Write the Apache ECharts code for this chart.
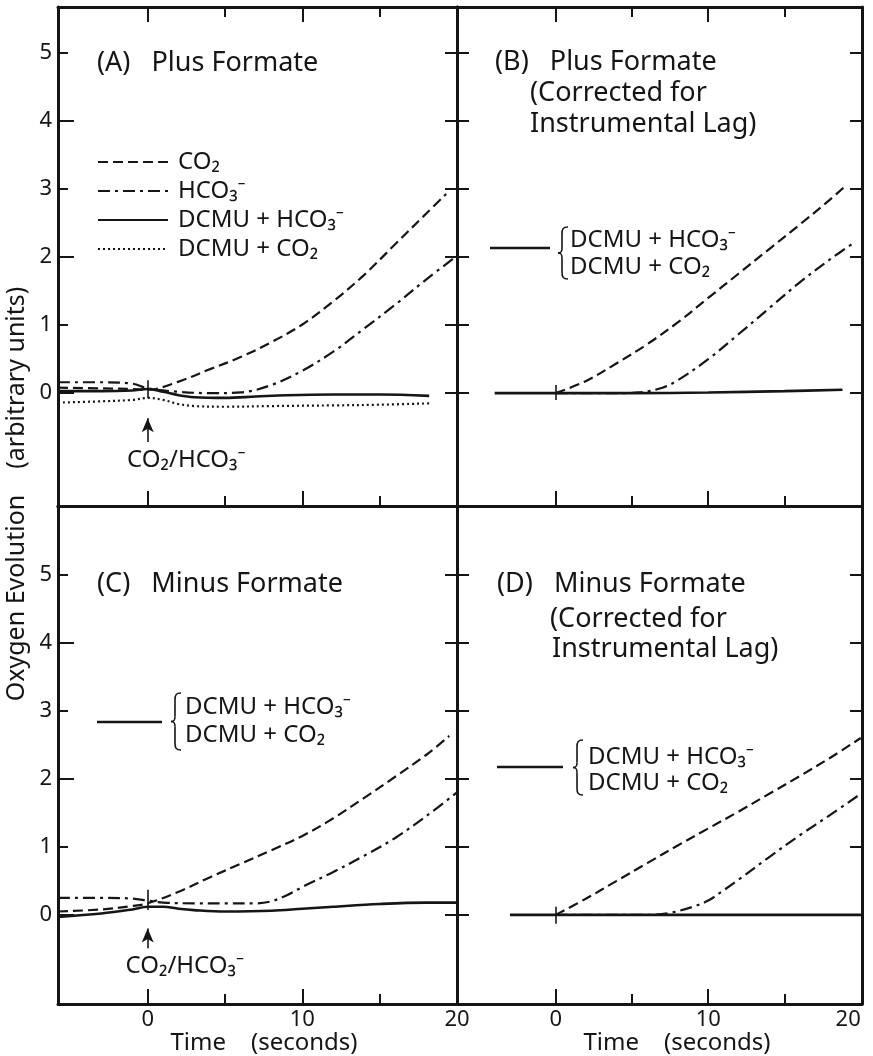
<!DOCTYPE html>
<html>
<head>
<meta charset="utf-8">
<title>Oxygen evolution</title>
<script src="https://cdn.jsdelivr.net/npm/echarts@6/dist/echarts.min.js"></script>
<style>
html, body { margin: 0; padding: 0; background: #fff; }
#chart { width: 873px; height: 1056px; }
</style>
</head>
<body>
<div id="chart"></div>
<script>
// [time (s), oxygen evolution]
const aCO2 = [[-5.8,0.08],[-3,0.07],[-1,0.06],[0,0.05],[2,0.17],[4,0.35],[6,0.53],[8,0.75],[10,1.01],[12,1.35],[14,1.74],[16,2.19],[18,2.64],[19.3,2.93]];
const aHCO3 = [[-5.8,0.16],[-3,0.16],[-1,0.14],[0,0.07],[2,0.02],[4,0.0],[6,0.01],[8,0.12],[10,0.33],[12,0.61],[14,0.95],[16,1.3],[18,1.67],[20,2.02]];
const aDcmuHCO3 = [[-5.8,0.03],[-3,0.03],[-1,0.04],[0,0.06],[1,0.02],[2,-0.03],[3,-0.06],[5,-0.07],[7,-0.05],[9,-0.03],[12,-0.02],[15,-0.02],[18.2,-0.04]];
const aDcmuCO2 = [[-5.8,-0.14],[-3,-0.12],[-1,-0.1],[0,-0.07],[1,-0.1],[2,-0.16],[3,-0.19],[5,-0.2],[8,-0.19],[12,-0.18],[15,-0.17],[18.2,-0.15]];

const bCO2 = [[0,0],[2,0.18],[4,0.44],[6,0.72],[8,1.04],[10,1.4],[12,1.76],[14,2.12],[16,2.48],[18,2.85],[19,3.05]];
const bHCO3 = [[0,0],[4,0],[5.5,0.01],[7,0.08],[8,0.19],[10,0.5],[12,0.87],[14,1.25],[16,1.63],[18,1.97],[19.6,2.22]];
const bDcmu = [[-4,0],[0,0],[5,0],[10,0.01],[15,0.03],[18.8,0.05]];

const cCO2 = [[-5.8,0.05],[-3,0.08],[-1,0.13],[0,0.17],[2,0.34],[4,0.55],[6,0.75],[8,0.95],[10,1.16],[12,1.42],[14,1.72],[16,2.03],[18,2.35],[19.5,2.63]];
const cHCO3 = [[-5.8,0.25],[-3,0.25],[-1,0.24],[0,0.21],[1,0.18],[3,0.17],[5,0.17],[7,0.17],[8,0.2],[9,0.29],[10,0.41],[12,0.63],[14,0.87],[16,1.13],[18,1.45],[20,1.8]];
const cDcmu = [[-5.8,-0.03],[-3,0.02],[-1,0.08],[0,0.12],[1,0.12],[2,0.09],[3,0.07],[5,0.05],[8,0.06],[10,0.09],[12,0.12],[15,0.16],[18,0.18],[20,0.18]];

const dCO2 = [[0,0],[2,0.24],[4,0.5],[6,0.76],[8,1.02],[10,1.27],[12,1.52],[14,1.78],[16,2.04],[18,2.31],[20,2.6]];
const dHCO3 = [[0,0],[6,0],[7.5,0.03],[9,0.12],[10,0.21],[11,0.36],[12,0.52],[14,0.85],[16,1.17],[18,1.47],[20,1.78]];
const dDcmu = [[-3,0],[0,0],[10,0],[20,0]];

// ticks and labels
const xMajorTicks = [0, 10];
const xMinorTicks = [5, 15];
const xTickLabels = [0, 10, 20];
const yMajorTicks = [0, 2, 4];
const yMinorTicks = [1, 3, 5];
const yTickLabels = [0, 1, 2, 3, 4, 5];

const legendNames = ['CO₂', 'HCO₃⁻', 'DCMU + HCO₃⁻', 'DCMU + CO₂'];
const markerLabel = 'CO₂/HCO₃⁻';

const FONT = '"Noto Sans", "DejaVu Sans", sans-serif';
const INK = '#151515';
const DASH = [10, 5];
const DASHDOT = [12, 5, 3, 5];
const DOT = [2, 3];

// panel boxes: [left, top, width, height]
const panels = [
    { rect: [58, 7, 399, 499],  x: [-5.8, 20],    y: [-1.66, 5.68], top: true,  yLabels: true,  xLabels: false },
    { rect: [457, 7, 405, 499], x: [-6.47, 20.08], y: [-1.66, 5.68], top: true,  yLabels: false, xLabels: false },
    { rect: [58, 506, 399, 498],  x: [-5.8, 20],    y: [-1.31, 6.01], top: false, yLabels: true,  xLabels: true },
    { rect: [457, 506, 405, 498], x: [-6.47, 20.08], y: [-1.31, 6.01], top: false, yLabels: false, xLabels: true }
];

const grid = [], xAxis = [], yAxis = [];

function tick(values, len) {
    if (!values) return { show: false };
    return { show: true, inside: true, length: len, customValues: values, lineStyle: { color: INK, width: 2 } };
}
function axisLine(show) {
    return { show: show, onZero: false, lineStyle: { color: INK, width: 3 } };
}
const noLabel = { show: false };

panels.forEach(function (p, i) {
    const g = { left: p.rect[0], top: p.rect[1], width: p.rect[2], height: p.rect[3], containLabel: false };
    grid.push(Object.assign({}, g), Object.assign({}, g));
    const xBase = { type: 'value', min: p.x[0], max: p.x[1], splitLine: { show: false } };
    const yBase = { type: 'value', min: p.y[0], max: p.y[1], splitLine: { show: false } };
    const xLab = p.xLabels ? {
        show: true, customValues: xTickLabels, margin: 5, color: INK, fontSize: 22, fontFamily: FONT,
        alignMaxLabel: i === 3 ? 'right' : 'center', showMaxLabel: true, showMinLabel: true
    } : noLabel;
    const yLab = p.yLabels ? {
        show: true, customValues: yTickLabels, margin: 6, color: INK, fontSize: 22, fontFamily: FONT
    } : noLabel;
    // main grid axes (long ticks)
    xAxis.push(Object.assign({}, xBase, { gridIndex: 2 * i, position: 'bottom', axisLine: axisLine(true), axisTick: tick(xMajorTicks, 15), axisLabel: xLab }));
    xAxis.push(Object.assign({}, xBase, { gridIndex: 2 * i, position: 'top', axisLine: axisLine(true), axisTick: tick(p.top ? xMajorTicks : null, 15), axisLabel: noLabel }));
    // overlay grid axes (short ticks)
    xAxis.push(Object.assign({}, xBase, { gridIndex: 2 * i + 1, position: 'bottom', axisLine: axisLine(false), axisTick: tick(xMinorTicks, 10), axisLabel: noLabel }));
    xAxis.push(Object.assign({}, xBase, { gridIndex: 2 * i + 1, position: 'top', axisLine: axisLine(false), axisTick: tick(p.top ? xMinorTicks : null, 10), axisLabel: noLabel }));

    yAxis.push(Object.assign({}, yBase, { gridIndex: 2 * i, position: 'left', axisLine: axisLine(true), axisTick: tick(p.yLabels ? yMajorTicks : yTickLabels, p.yLabels ? 16 : 12), axisLabel: yLab }));
    yAxis.push(Object.assign({}, yBase, { gridIndex: 2 * i, position: 'right', axisLine: axisLine(true), axisTick: tick(yTickLabels, 12), axisLabel: noLabel }));
    yAxis.push(Object.assign({}, yBase, { gridIndex: 2 * i + 1, position: 'left', axisLine: axisLine(false), axisTick: tick(p.yLabels ? yMinorTicks : null, 10), axisLabel: noLabel }));
    yAxis.push(Object.assign({}, yBase, { gridIndex: 2 * i + 1, position: 'right', axisLine: axisLine(false), axisTick: tick(null), axisLabel: noLabel }));
});

function line(name, data, panel, dash, width) {
    return {
        name: name, type: 'line', xAxisIndex: 4 * panel, yAxisIndex: 4 * panel,
        data: data, symbol: 'none', smooth: 0.35, silent: true,
        lineStyle: { color: INK, width: width || 2.2, type: dash || 'solid' },
        itemStyle: { color: INK }
    };
}

// vertical marks at t = 0 (arrow + short cross stroke)
function marks(cross, arrow, labelAt) {
    const data = [[{ coord: [0, cross[0]], symbol: 'none' }, { coord: [0, cross[1]], symbol: 'none' }]];
    if (arrow) {
        data.push([{ coord: [0, arrow[0]], symbol: 'none' }, { coord: [0, arrow[1]], symbol: 'arrow', symbolSize: [9, 14] }]);
    }
    const out = {
        markLine: {
            silent: true, animation: false, symbol: 'none',
            lineStyle: { color: INK, width: 1.6, type: 'solid' },
            label: { show: false }, emphasis: { disabled: true },
            data: data
        }
    };
    if (labelAt) {
        out.markPoint = {
            silent: true, animation: false, symbol: 'circle', symbolSize: 1,
            itemStyle: { color: 'rgba(0,0,0,0)' },
            label: { show: true, position: 'inside', formatter: markerLabel, color: INK, fontSize: 24, fontFamily: FONT },
            data: [{ coord: labelAt }]
        };
    }
    return out;
}

const series = [
    line(legendNames[0], aCO2, 0, DASH),
    line(legendNames[1], aHCO3, 0, DASHDOT),
    Object.assign(line(legendNames[2], aDcmuHCO3, 0, 'solid', 2.6), marks([0.19, -0.07], [-0.72, -0.37], [2.5, -0.985])),
    line(legendNames[3], aDcmuCO2, 0, DOT),

    line(legendNames[0], bCO2, 1, DASH),
    line(legendNames[1], bHCO3, 1, DASHDOT),
    Object.assign(line('DCMU B', bDcmu, 1, 'solid', 2.6), marks([0.12, -0.1])),

    line(legendNames[0], cCO2, 2, DASH),
    line(legendNames[1], cHCO3, 2, DASHDOT),
    Object.assign(line('DCMU C', cDcmu, 2, 'solid', 2.6), marks([0.37, 0.07], [-0.49, -0.2], [2.4, -0.76])),

    line(legendNames[0], dCO2, 3, DASH),
    line(legendNames[1], dHCO3, 3, DASHDOT),
    Object.assign(line('DCMU D', dDcmu, 3, 'solid', 2.6), marks([0.12, -0.13]))
];

function text(str, x, y, size, align) {
    return {
        type: 'text', x: x, y: y, silent: true,
        style: { text: str, fill: INK, fontSize: size, fontFamily: FONT, align: align || 'left', verticalAlign: 'middle' }
    };
}

function seg(x1, y1, x2, y2, w) {
    return { type: 'line', silent: true, shape: { x1: x1, y1: y1, x2: x2, y2: y2 }, style: { stroke: INK, lineWidth: w } };
}
function curve(x1, y1, cx1, cy1, cx2, cy2, x2, y2) {
    return {
        type: 'bezierCurve', silent: true,
        shape: { x1: x1, y1: y1, cpx1: cx1, cpy1: cy1, cpx2: cx2, cpy2: cy2, x2: x2, y2: y2 },
        style: { stroke: INK, lineWidth: 1.6, fill: null }
    };
}

// "— { DCMU + HCO3- / DCMU + CO2" key
function braceKey(x0, x1, yLine, bx, yTop, yBot, tx, ty1, ty2) {
    const m = (yTop + yBot) / 2, s = bx + 2;
    return [
        seg(x0, yLine, x1, yLine, 2.6),
        curve(bx + 8, yTop, bx + 3, yTop, s, yTop + 2, s, yTop + 7),
        seg(s, yTop + 7, s, m - 5, 1.6),
        curve(s, m - 5, s, m - 1, bx + 1, m, bx - 2, m),
        curve(bx - 2, m, bx + 1, m, s, m + 1, s, m + 5),
        seg(s, m + 5, s, yBot - 7, 1.6),
        curve(s, yBot - 7, s, yBot - 2, bx + 3, yBot, bx + 8, yBot),
        text(legendNames[2], tx, ty1, 24),
        text(legendNames[3], tx, ty2, 24)
    ];
}

const graphic = [].concat(
    [
        text('(A)   Plus Formate', 97, 63, 27),
        text('(B)   Plus Formate', 495, 62, 27),
        text('(Corrected for', 530, 93, 27),
        text('Instrumental Lag)', 530, 124, 27),
        text('(C)   Minus Formate', 97, 584, 27),
        text('(D)   Minus Formate', 497, 584, 27),
        text('(Corrected for', 550, 619, 27),
        text('Instrumental Lag)', 552, 649, 27),
        text('Time    (seconds)', 264, 1043, 24, 'center'),
        text('Time    (seconds)', 677, 1043, 24, 'center'),
        Object.assign(text('Oxygen Evolution    (arbitrary units)', 17, 494, 25, 'center'), { rotation: Math.PI / 2 })
    ],
    braceKey(490, 550, 248, 560, 227, 279, 570, 240, 267),
    braceKey(97, 162, 722, 173, 693, 750, 185, 707, 735),
    braceKey(497, 563, 767, 575, 740, 795, 588, 757, 783)
);

const chart = echarts.init(document.getElementById('chart'));
chart.setOption({
    backgroundColor: '#fff',
    animation: false,
    textStyle: { fontFamily: FONT, color: INK },
    legend: {
        data: legendNames, orient: 'vertical', left: 97, top: 150, padding: 0,
        itemWidth: 70, itemHeight: 14, itemGap: 5, selectedMode: false,
        itemStyle: { opacity: 0, color: 'rgba(0,0,0,0)', borderWidth: 0 },
        textStyle: { fontSize: 24, color: INK, fontFamily: FONT, padding: [0, 0, 0, 5] }
    },
    grid: grid,
    xAxis: xAxis,
    yAxis: yAxis,
    series: series,
    graphic: graphic
});
</script>
</body>
</html>
